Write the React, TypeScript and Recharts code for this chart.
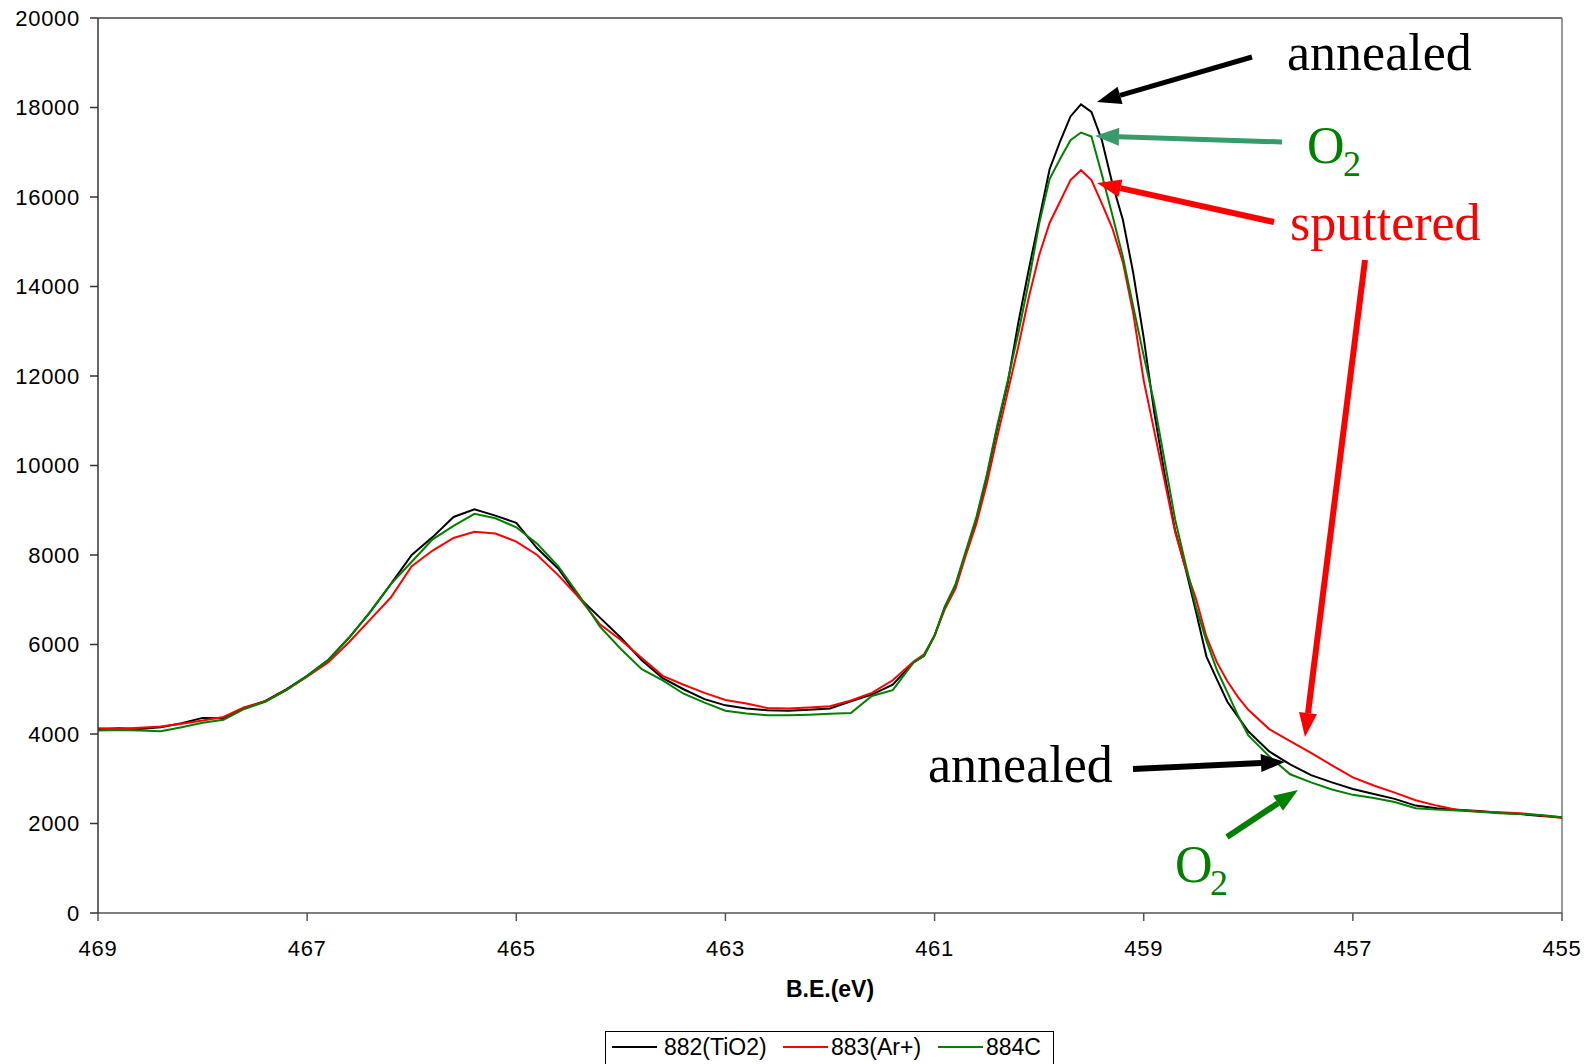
import React from 'react';
import { LineChart, Line, XAxis, YAxis, ReferenceLine } from 'recharts';

// binding energy (eV), descending as plotted
const BE = [
  469.0, 468.8, 468.6, 468.4, 468.2, 468.0, 467.8, 467.6, 467.4, 467.2,
  467.0, 466.8, 466.6, 466.4, 466.2, 466.0, 465.8, 465.6, 465.4, 465.2,
  465.0, 464.8, 464.6, 464.4, 464.2, 464.0, 463.8, 463.6, 463.4, 463.2,
  463.0, 462.8, 462.6, 462.4, 462.2, 462.0, 461.8, 461.6, 461.4, 461.2,
  461.1, 461.0, 460.9, 460.8, 460.7, 460.6, 460.5, 460.4, 460.3, 460.2,
  460.1, 460.0, 459.9, 459.8, 459.7, 459.6, 459.5, 459.4, 459.3, 459.2,
  459.1, 459.0, 458.9, 458.8, 458.7, 458.6, 458.5, 458.4, 458.3, 458.2,
  458.1, 458.0, 457.8, 457.6, 457.4, 457.2, 457.0, 456.8, 456.6, 456.4,
  456.2, 456.0, 455.8, 455.6, 455.4, 455.2, 455.0,
];

// 882(TiO2) - annealed
const S882 = [
  4110, 4130, 4110, 4150, 4240, 4360, 4350, 4580, 4740, 5000,
  5300, 5650, 6150, 6720, 7350, 8000, 8400, 8850, 9020, 8880,
  8720, 8150, 7700, 7050, 6600, 6150, 5650, 5250, 5000, 4780,
  4640, 4570, 4530, 4520, 4540, 4570, 4730, 4880, 5100, 5600,
  5750, 6200, 6850, 7300, 8050, 8800, 9750, 10850, 11850, 13180,
  14370, 15500, 16620, 17240, 17800, 18070, 17900, 17270, 16300, 15500,
  14300, 12850, 11200, 9800, 8550, 7700, 6730, 5730, 5220, 4720,
  4390, 4060, 3610, 3320, 3080, 2920, 2770, 2660, 2550, 2400,
  2340, 2310, 2280, 2240, 2210, 2170, 2140,
];

// 883(Ar+) - sputtered
const S883 = [
  4130, 4110, 4140, 4170, 4230, 4300, 4380, 4600, 4730, 4980,
  5280, 5600, 6050, 6550, 7050, 7750, 8100, 8380, 8520, 8480,
  8300, 8000, 7550, 7050, 6450, 6100, 5700, 5300, 5100, 4920,
  4760, 4680, 4580, 4570, 4590, 4620, 4750, 4920, 5200, 5620,
  5780, 6200, 6800, 7250, 8000, 8700, 9600, 10650, 11650, 12650,
  13750, 14700, 15420, 15900, 16380, 16600, 16380, 15850, 15300, 14550,
  13400, 11900, 10780, 9650, 8520, 7700, 7020, 6175, 5600, 5180,
  4830, 4540, 4110, 3840, 3580, 3300, 3030, 2850, 2690, 2520,
  2400, 2300, 2270, 2250, 2230, 2180, 2120,
];

// 884C - O2
const S884 = [
  4080, 4090, 4080, 4060, 4150, 4250, 4320, 4560, 4720, 4980,
  5300, 5650, 6150, 6720, 7350, 7850, 8350, 8650, 8920, 8820,
  8620, 8250, 7750, 7100, 6400, 5900, 5450, 5200, 4900, 4700,
  4520, 4460, 4420, 4420, 4430, 4450, 4470, 4850, 4980, 5600,
  5750, 6200, 6850, 7350, 8100, 8850, 9800, 10900, 11900, 12950,
  14100, 15400, 16400, 16850, 17270, 17440, 17350, 16500, 15600, 14670,
  13550, 12450, 11400, 10100, 8800, 7800, 6830, 6080, 5430, 4930,
  4420, 3970, 3500, 3100, 2920, 2760, 2640, 2570, 2480, 2340,
  2310, 2290, 2260, 2230, 2210, 2190, 2140,
];

const X_TICKS = [469, 467, 465, 463, 461, 459, 457, 455];
const Y_TICKS = [0, 2000, 4000, 6000, 8000, 10000, 12000, 14000, 16000, 18000, 20000];

const SERIES = [
  { key: 's882', name: '882(TiO2)', color: '#000000' },
  { key: 's883', name: '883(Ar+)', color: '#ff0000' },
  { key: 's884', name: '884C', color: '#008000' },
];

const W = 1593;
const H = 1064;
const tickFont = { fill: '#000', fontSize: 22, fontFamily: 'Liberation Sans, Arial, sans-serif', letterSpacing: 0.7 };

function Arrow({ x1, y1, x2, y2, color, width }: { x1: number; y1: number; x2: number; y2: number; color: string; width: number }) {
  const ang = Math.atan2(y2 - y1, x2 - x1);
  const len = 24;
  const half = 9;
  const bx = x2 - len * Math.cos(ang);
  const by = y2 - len * Math.sin(ang);
  const px = -Math.sin(ang) * half;
  const py = Math.cos(ang) * half;
  return (
    <g>
      <line x1={x1} y1={y1} x2={bx} y2={by} stroke={color} strokeWidth={width} />
      <polygon points={`${x2},${y2} ${bx + px},${by + py} ${bx - px},${by - py}`} fill={color} />
    </g>
  );
}

function Overlay() {
  const serif = 'Liberation Serif, Times New Roman, serif';
  const sans = 'Liberation Sans, Arial, sans-serif';
  return (
    <svg width={W} height={H} style={{ position: 'absolute', left: 0, top: 0, pointerEvents: 'none' }}>
      <text x={830} y={997} textAnchor="middle" fontFamily={sans} fontWeight="bold" fontSize={23}>B.E.(eV)</text>

      <Arrow x1={1252} y1={57} x2={1097} y2={102} color="#000" width={5} />
      <text x={1287} y={70} fontFamily={serif} fontSize={52} fill="#000">annealed</text>

      <Arrow x1={1282} y1={142} x2={1095} y2={136} color="#379b6c" width={5} />
      <text x={1307} y={163} fontFamily={serif} fontSize={52} fill="#008000">O</text>
      <text x={1343} y={176} fontFamily={serif} fontSize={36} fill="#008000">2</text>

      <Arrow x1={1274} y1={222} x2={1097} y2={183} color="#ff0000" width={6} />
      <text x={1290} y={240} fontFamily={serif} fontSize={52} fill="#ff0000">sputtered</text>
      <Arrow x1={1365} y1={260} x2={1305} y2={737} color="#ff0000" width={6} />

      <Arrow x1={1133} y1={769} x2={1285} y2={762} color="#000" width={6} />
      <text x={928} y={782} fontFamily={serif} fontSize={52} fill="#000">annealed</text>

      <Arrow x1={1227} y1={837} x2={1298} y2={790} color="#008000" width={6} />
      <text x={1175} y={882} fontFamily={serif} fontSize={52} fill="#008000">O</text>
      <text x={1210} y={895} fontFamily={serif} fontSize={36} fill="#008000">2</text>

      <rect x={605.5} y={1031.5} width={448} height={40} fill="#fff" stroke="#000" strokeWidth={1} />
      {SERIES.map((s, i) => {
        const lx = [612, 783, 938][i];
        const tx = [664, 831, 986][i];
        return (
          <g key={s.key}>
            <line x1={lx} y1={1047} x2={lx + 45} y2={1047} stroke={s.color} strokeWidth={2} />
            <text x={tx} y={1055} fontFamily={sans} fontSize={23} fill="#000">{s.name}</text>
          </g>
        );
      })}
    </svg>
  );
}

export default function App() {
  const data = BE.map((be, i) => ({ be, s882: S882[i], s883: S883[i], s884: S884[i] }));
  return (
    <div style={{ position: 'absolute', left: 0, top: 0, width: W, height: H, background: '#fff', overflow: 'hidden' }}>
      <LineChart width={W} height={H} data={data} margin={{ top: 18, right: 31, left: 18, bottom: 111 }}>
        <XAxis
          dataKey="be"
          type="number"
          domain={[455, 469]}
          reversed
          ticks={X_TICKS}
          tick={tickFont}
          tickSize={8}
          tickMargin={19}
          height={40}
          stroke="#555"
          strokeWidth={1.5}
          interval={0}
        />
        <YAxis
          type="number"
          domain={[0, 20000]}
          ticks={Y_TICKS}
          tick={tickFont}
          tickSize={8}
          tickMargin={10}
          width={80}
          stroke="#333"
          strokeWidth={1.5}
          interval={0}
        />
        <ReferenceLine y={20000} stroke="#444" strokeWidth={1.5} />
        <ReferenceLine x={455} stroke="#777" strokeWidth={1.5} />
        {SERIES.map((s) => (
          <Line
            key={s.key}
            dataKey={s.key}
            name={s.name}
            type="linear"
            stroke={s.color}
            strokeWidth={2}
            dot={false}
            isAnimationActive={false}
          />
        ))}
      </LineChart>
      <Overlay />
    </div>
  );
}
